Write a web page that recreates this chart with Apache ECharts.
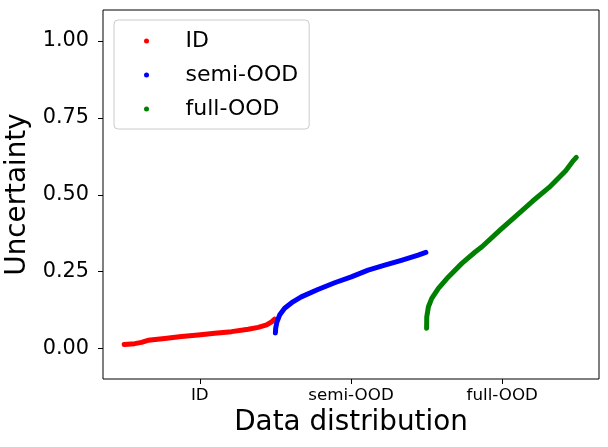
<!DOCTYPE html>
<html>
<head>
	<meta charset="utf-8">
	<title>Uncertainty</title>
	<style type="text/css">
		html,body{
			margin: 0;
			padding: 0;
			width: 100%;
			height: 100%;
			background: #fff;
		}
		#main{
			width: 608px;
			height: 447px;
		}
	</style>
</head>
<body>
<div id="main"></div>
<script src="https://cdn.jsdelivr.net/npm/echarts@6/dist/echarts.min.js"></script>
<script>
    // 坐标范围与刻度（每段数据占 1 个单位）
    var xMin = -0.14, xMax = 3.14;
    var yMin = -0.1, yMax = 1.1;
    var xTickValues = [0.5, 1.5, 2.5];
    var xTickLabels = ['ID', 'semi-OOD', 'full-OOD'];
    var yTickValues = [0, 0.25, 0.5, 0.75, 1.0];

    // ID
    var idX = [0.0, 0.07, 0.114, 0.158, 0.268, 0.379, 0.489, 0.599, 0.71, 0.82, 0.886, 0.942, 0.975, 0.995];
    var idY = [0.012, 0.015, 0.019, 0.026, 0.032, 0.038, 0.043, 0.049, 0.054, 0.062, 0.068, 0.076, 0.086, 0.095];

    // semi-OOD
    var semiX = [1.0, 1.002, 1.01, 1.028, 1.061, 1.116, 1.171, 1.281, 1.392, 1.502, 1.613, 1.723, 1.833, 1.944, 1.995];
    var semiY = [0.050, 0.065, 0.085, 0.108, 0.130, 0.151, 0.167, 0.191, 0.213, 0.232, 0.254, 0.270, 0.286, 0.303, 0.312];

    // full-OOD
    var fullX = [2.0, 2.001, 2.012, 2.034, 2.078, 2.144, 2.233, 2.321, 2.366, 2.487, 2.59, 2.70, 2.81, 2.92, 2.972, 2.99];
    var fullY = [0.065, 0.102, 0.135, 0.162, 0.195, 0.232, 0.276, 0.313, 0.33, 0.385, 0.43, 0.478, 0.523, 0.577, 0.611, 0.621];

    function pairs(xs, ys) {
        var out = [];
        for (var i = 0; i < xs.length; i++) {
            out.push([xs[i], ys[i]]);
        }
        return out;
    }

    var font = 'DejaVu Sans';

    function makeSeries(name, color, xs, ys) {
        return {
            name: name,
            type: 'line',
            showSymbol: false,
            symbol: 'circle',
            color: color,
            lineStyle: {
                color: color,
                width: 5,
                cap: 'round',
                join: 'round'
            },
            data: pairs(xs, ys)
        };
    }

    var myChart = echarts.init(document.getElementById('main'));
    var option = {
        animation: false,
        backgroundColor: '#fff',
        grid: {
            left: 103,
            right: 9,
            top: 10,
            bottom: 68,
            outerBoundsMode: 'none',
            show: true,
            borderColor: '#000',
            borderWidth: 1
        },
        legend: {
            left: 114,
            top: 20,
            orient: 'vertical',
            icon: 'circle',
            itemWidth: 20,
            itemHeight: 5,
            itemGap: 10,
            padding: [9, 11, 8, 30],
            borderColor: '#cccccc',
            borderWidth: 1,
            borderRadius: 4,
            backgroundColor: 'rgba(255,255,255,0.8)',
            textStyle: {
                fontFamily: font,
                fontSize: 22,
                lineHeight: 24,
                color: '#000',
                padding: [0, 0, 0, 24]
            },
            data: ['ID', 'semi-OOD', 'full-OOD']
        },
        xAxis: {
            type: 'value',
            min: xMin,
            max: xMax,
            name: 'Data distribution',
            nameLocation: 'middle',
            nameGap: 28,
            nameTextStyle: {
                fontFamily: font,
                fontSize: 27.8,
                color: '#000'
            },
            axisLine: { show: false, onZero: false },
            splitLine: { show: false },
            axisTick: { show: false },
            axisLabel: {
                margin: 8,
                fontFamily: font,
                fontSize: 16.7,
                color: '#000',
                customValues: xTickValues,
                formatter: function (v) {
                    var idx = xTickValues.indexOf(v);
                    return idx >= 0 ? xTickLabels[idx] : '';
                }
            }
        },
        yAxis: {
            type: 'value',
            min: yMin,
            max: yMax,
            name: 'Uncertainty',
            nameLocation: 'middle',
            nameGap: 58,
            nameTextStyle: {
                fontFamily: font,
                fontSize: 27.8,
                color: '#000'
            },
            axisLine: { show: false, onZero: false },
            splitLine: { show: false },
            axisTick: { show: false },
            axisLabel: {
                margin: 14,
                fontFamily: font,
                fontSize: 20.8,
                color: '#000',
                customValues: yTickValues,
                formatter: function (v) {
                    return v.toFixed(2);
                }
            }
        },
        series: [
            makeSeries('ID', '#ff0000', idX, idY),
            makeSeries('semi-OOD', '#0000ff', semiX, semiY),
            makeSeries('full-OOD', '#008000', fullX, fullY)
        ]
    };
    myChart.setOption(option);

    // 刻度线：位置由坐标轴换算得到，画在网格外侧
    var ticks = [];
    var leftPx = myChart.convertToPixel({ xAxisIndex: 0 }, xMin);
    var bottomPx = myChart.convertToPixel({ yAxisIndex: 0 }, yMin);
    yTickValues.forEach(function (v) {
        var py = Math.round(myChart.convertToPixel({ yAxisIndex: 0 }, v)) + 0.5;
        ticks.push({
            type: 'line',
            silent: true,
            z: 100,
            shape: { x1: leftPx - 5, y1: py, x2: leftPx, y2: py },
            style: { stroke: '#000', lineWidth: 1 }
        });
    });
    xTickValues.forEach(function (v) {
        var px = Math.round(myChart.convertToPixel({ xAxisIndex: 0 }, v)) + 0.5;
        ticks.push({
            type: 'line',
            silent: true,
            z: 100,
            shape: { x1: px, y1: bottomPx, x2: px, y2: bottomPx + 5 },
            style: { stroke: '#000', lineWidth: 1 }
        });
    });
    myChart.setOption({ graphic: ticks });
</script>
</body>
</html>
